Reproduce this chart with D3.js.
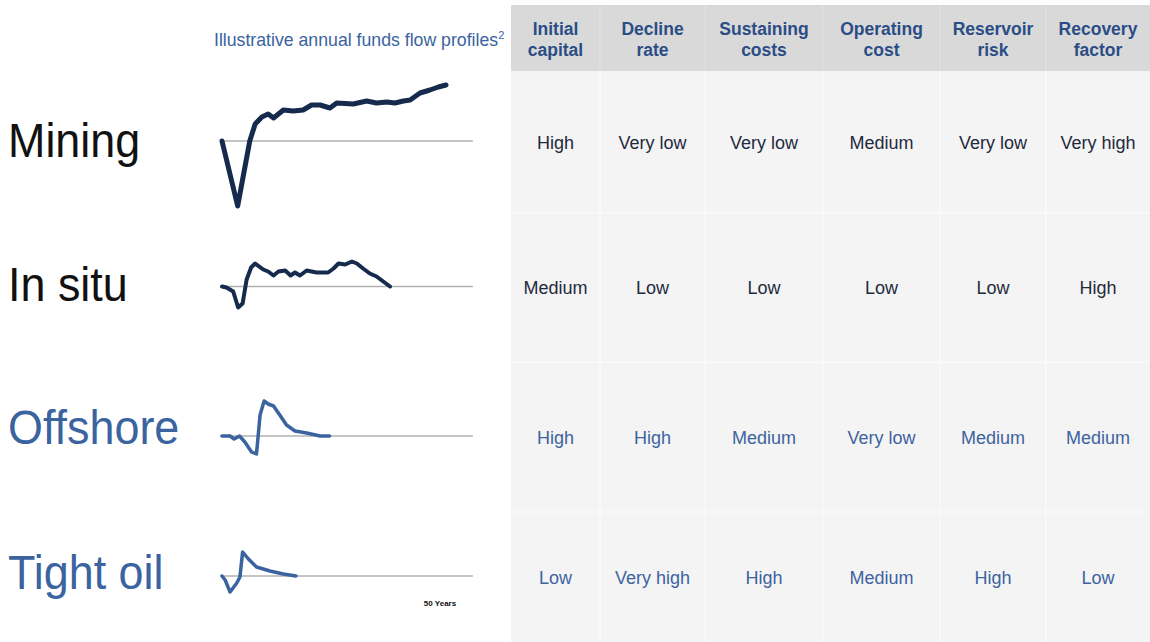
<!DOCTYPE html>
<html>
<head>
<meta charset="utf-8">
<script src="https://cdn.jsdelivr.net/npm/d3@7"></script>
<style>
  html, body { margin: 0; padding: 0; background: #fff; }
  svg { display: block; font-family: "Liberation Sans", Arial, Helvetica, sans-serif; }
</style>
</head>
<body>
<svg id="chart" width="1150" height="642"></svg>
<script>
// rows and columns of the comparison
const profiles = ["Mining", "In situ", "Offshore", "Tight oil"];
const attributes = ["Initial capital", "Decline rate", "Sustaining costs", "Operating cost", "Reservoir risk", "Recovery factor"];

// ratings per profile, same order as attributes
const miningRatings = ["High", "Very low", "Very low", "Medium", "Very low", "Very high"];
const inSituRatings = ["Medium", "Low", "Low", "Low", "Low", "High"];
const offshoreRatings = ["High", "High", "Medium", "Very low", "Medium", "Medium"];
const tightOilRatings = ["Low", "Very high", "High", "Medium", "High", "Low"];

// illustrative annual funds flow, [year, relative flow]
const miningFlow = [[0, 0], [3.5, -65], [6.2, 0], [7.4, 17], [8.9, 24], [10.3, 27], [11.5, 23], [13.7, 31], [15.9, 30],
  [18.1, 31], [20, 36], [21.9, 36], [24.1, 33], [25.6, 38], [29.3, 37], [32.3, 40], [34.5, 38], [36.8, 39],
  [38.6, 38], [40.5, 40], [42, 41], [44.2, 48], [46.4, 51], [48.3, 54], [50, 56]];
const inSituFlow = [[0, 0], [1, -1], [2.5, -5], [3.6, -21], [4.6, -17], [5.5, 7], [6.5, 19], [7.4, 23], [9.2, 17],
  [10.3, 15], [11.5, 11], [12.6, 15], [14.1, 16], [15.3, 11], [16.3, 14], [17.4, 11], [18.9, 16], [21.1, 14],
  [23.7, 14], [24.9, 18], [26, 23], [27.5, 22], [29, 25], [30.1, 23], [31.5, 18], [33, 13], [34.5, 10], [36, 5], [37.5, 0]];
const offshoreFlow = [[0, 0], [1.8, 0], [2.7, -3], [3.9, 0], [5.1, -6], [6.6, -16], [7.7, -18], [8.5, 21], [9.4, 35],
  [10.3, 32], [11.5, 30], [12.9, 21], [14.4, 11], [16.3, 5], [18.9, 3], [21.9, 0], [24, 0]];
const tightOilFlow = [[0, 0], [0.7, -4], [1.8, -16], [3.3, -7], [4, -1], [4.6, 24], [5.9, 17], [7.7, 9], [10.7, 5],
  [13.7, 2], [16.5, 0]];

const ratings = [miningRatings, inSituRatings, offshoreRatings, tightOilRatings];
const flows = [miningFlow, inSituFlow, offshoreFlow, tightOilFlow];

// layout
const colEdges = [511, 600, 705, 823, 940, 1046, 1150];
const rowEdges = [71, 213, 362, 512, 642];
const headTop = 5, headBottom = 71;
const navy = "#152a4c", blue = "#3a63a0";
const lineColor = [navy, navy, blue, blue];
const lineWidth = [5, 4, 3.5, 3.5];
const labelColor = ["#111", "#111", blue, blue];
const labelY = [157, 301, 444, 589];
const cellColor = ["#1f2a3d", "#1f2a3d", "#3d63a0", "#3d63a0"];

const svg = d3.select("#chart");

// squeeze text a bit, the source type is narrow
function squeeze(sel, k) {
  sel.each(function() {
    const w = this.getComputedTextLength();
    this.setAttribute("textLength", w * k);
    this.setAttribute("lengthAdjust", "spacingAndGlyphs");
  });
}

const rowTop = d3.scaleOrdinal(profiles, rowEdges.slice(0, -1));
const rowBottom = d3.scaleOrdinal(profiles, rowEdges.slice(1));
const rowMid = p => (rowTop(p) + rowBottom(p)) / 2;
const colLeft = d3.scaleOrdinal(attributes, colEdges.slice(0, -1));
const colRight = d3.scaleOrdinal(attributes, colEdges.slice(1));
const colMid = a => (colLeft(a) + colRight(a)) / 2;

// table backgrounds
svg.append("rect").attr("x", colEdges[0]).attr("y", headTop)
  .attr("width", colEdges[6] - colEdges[0]).attr("height", headBottom - headTop).attr("fill", "#d9d9d9");
svg.append("rect").attr("x", colEdges[0]).attr("y", headBottom)
  .attr("width", colEdges[6] - colEdges[0]).attr("height", 642 - headBottom).attr("fill", "#f4f4f4");

svg.selectAll(".hdiv").data(attributes.slice(1)).enter().append("line")
  .attr("x1", d => colLeft(d)).attr("x2", d => colLeft(d))
  .attr("y1", headTop).attr("y2", headBottom)
  .attr("stroke", "#e2e2e2").attr("stroke-width", 1);
svg.selectAll(".bdiv").data(attributes.slice(1)).enter().append("line")
  .attr("x1", d => colLeft(d)).attr("x2", d => colLeft(d))
  .attr("y1", headBottom).attr("y2", 642)
  .attr("stroke", "#fbfbfb").attr("stroke-width", 1.2);
svg.selectAll(".rdiv").data(profiles.slice(1)).enter().append("line")
  .attr("x1", colEdges[0]).attr("x2", colEdges[6])
  .attr("y1", d => rowTop(d)).attr("y2", d => rowTop(d))
  .attr("stroke", "#fbfbfb").attr("stroke-width", 1.2);

// header labels
const head = svg.selectAll(".head").data(attributes).enter().append("text")
  .attr("text-anchor", "middle")
  .attr("font-size", 17.5).attr("font-weight", "bold").attr("fill", "#2b4d86");
head.append("tspan").attr("x", d => colMid(d)).attr("y", 35).text(d => d.split(" ")[0]);
head.append("tspan").attr("x", d => colMid(d)).attr("y", 56).text(d => d.split(" ")[1]);

// rating cells
profiles.forEach((p, i) => {
  svg.selectAll(".cell" + i).data(attributes).enter().append("text")
    .attr("x", d => colMid(d))
    .attr("y", rowMid(p) + 6.5)
    .attr("text-anchor", "middle")
    .attr("font-size", 18).attr("fill", cellColor[i])
    .text((d, j) => ratings[i][j]);
});

// profile names
svg.selectAll(".label").data(profiles).enter().append("text")
  .attr("x", 8)
  .attr("y", (d, i) => labelY[i])
  .attr("font-size", 48).attr("fill", (d, i) => labelColor[i])
  .text(d => d)
  .call(squeeze, 0.935);

// title over the sparklines
const title = svg.append("text").attr("x", 214).attr("y", 46)
  .attr("font-size", 17.7).attr("fill", blue);
title.append("tspan").text("Illustrative annual funds flow profiles");
title.append("tspan").attr("font-size", 11).attr("dy", -7).text("2");

// sparklines
const x = d3.scaleLinear().domain([0, 50]).range([222, 446]);
const y = d3.scaleLinear().domain([-65, 56]).range([65, -56]);
const line = d3.line().x(d => x(d[0])).y(d => y(d[1]));

profiles.forEach((p, i) => {
  const g = svg.append("g")
    .attr("transform", "translate(0," + (rowMid(p) - 1) + ")");
  g.append("line")
    .attr("x1", x(-0.4)).attr("x2", x(56))
    .attr("y1", y(0)).attr("y2", y(0))
    .attr("stroke", "#b0b0b0").attr("stroke-width", 1.5);
  g.append("path")
    .datum(flows[i])
    .attr("d", line)
    .attr("fill", "none")
    .attr("stroke", lineColor[i])
    .attr("stroke-width", lineWidth[i])
    .attr("stroke-linejoin", "round")
    .attr("stroke-linecap", "round");
});

svg.append("text").attr("x", x(50) - 6).attr("y", 606)
  .attr("text-anchor", "middle")
  .attr("font-size", 8).attr("font-weight", "bold").attr("fill", "#111")
  .text("50 Years");
</script>
</body>
</html>
